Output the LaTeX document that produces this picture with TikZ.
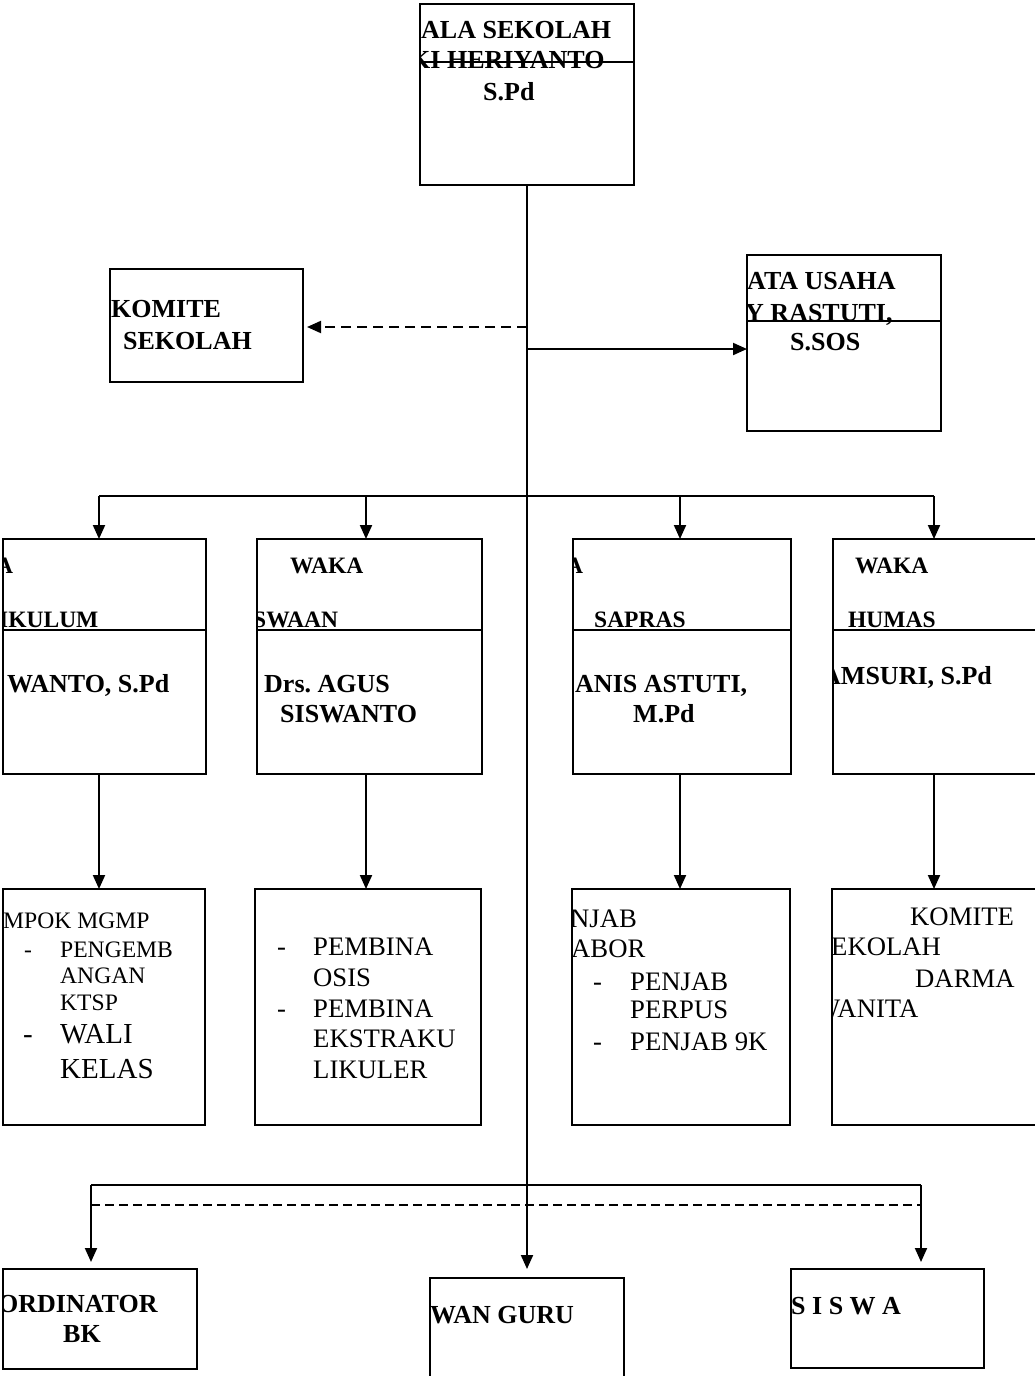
\documentclass[tikz,border=0pt]{standalone}
\usepackage{fontspec}
\setmainfont{Liberation Serif}
\usetikzlibrary{arrows.meta}
\usetikzlibrary{positioning}
\frenchspacing

\tikzset{
  unitbox/.style={rectangle, draw=black, line width=1.7pt, anchor=north west, inner sep=0pt, outer sep=0pt},
  divline/.style={line width=1.2pt},
  nm/.style={anchor=base west, inner sep=0pt, font=\bfseries\fontsize{26}{30}\selectfont},
  hd/.style={anchor=base west, inner sep=0pt, font=\bfseries\fontsize{23.5}{28}\selectfont},
  tsk/.style={anchor=base west, inner sep=0pt, font=\fontsize{26.7}{30}\selectfont},
  tsksm/.style={anchor=base west, inner sep=0pt, font=\fontsize{23.6}{28}\selectfont},
  tskbig/.style={anchor=base west, inner sep=0pt, font=\fontsize{29}{33}\selectfont},
  link/.style={line width=2pt, -{Triangle[length=14pt,width=12pt]}},
  plain/.style={line width=2pt},
  dashlink/.style={link, dash pattern=on 10pt off 6pt},
}

\begin{document}
\begin{tikzpicture}[x=1pt, y=-1pt]
\useasboundingbox (0,0) rectangle (1034,1376);

% boxes
\node [unitbox, minimum width=214pt, minimum height=181pt] (kepala) at (420,4) {};
\node [unitbox, minimum width=193pt, minimum height=113pt] (komite) at (110,269) {};
\node [unitbox, minimum width=194pt, minimum height=176pt] (tu) at (747,255) {};
\node [unitbox, minimum width=203pt, minimum height=235pt] (w1) at (3,539) {};
\node [unitbox, minimum width=225pt, minimum height=235pt] (w2) at (257,539) {};
\node [unitbox, minimum width=218pt, minimum height=235pt] (w3) at (573,539) {};
\node [unitbox, minimum width=212pt, minimum height=235pt] (w4) at (833,539) {};
\node [unitbox, minimum width=202pt, minimum height=236pt] (p1) at (3,889) {};
\node [unitbox, minimum width=226pt, minimum height=236pt] (p2) at (255,889) {};
\node [unitbox, minimum width=218pt, minimum height=236pt] (p3) at (572,889) {};
\node [unitbox, minimum width=213pt, minimum height=236pt] (p4) at (832,889) {};
\node [unitbox, minimum width=194pt, minimum height=100pt] (bk) at (3,1269) {};
\node [unitbox, minimum width=194pt, minimum height=110pt] (guru) at (430,1278) {};
\node [unitbox, minimum width=193pt, minimum height=99pt] (siswa) at (791,1269) {};

% dividers
\draw [divline] (kepala.west |- 0,62) -- (kepala.east |- 0,62);
\draw [divline] (tu.west |- 0,321) -- (tu.east |- 0,321);
\foreach \b in {w1,w2,w3,w4}
  \draw [divline] (\b.west |- 0,630) -- (\b.east |- 0,630);

% texts
\begin{scope}
\clip (kepala.south west) rectangle (kepala.north east);
\node [nm] (kepala1) at (421,38) {ALA SEKOLAH};
\node [nm] (kepala2) at (410,68) {KI HERIYANTO};
\node [nm] (kepala3) at (483,100) {S.Pd};
\end{scope}
\begin{scope}
\clip (komite.south west) rectangle (komite.north east);
\node [nm] (komite1) at (111,317) {KOMITE};
\node [nm] (komite2) at (123,349) {SEKOLAH};
\end{scope}
\begin{scope}
\clip (tu.south west) rectangle (tu.north east);
\node [nm] (tu1) at (747,289) {ATA USAHA};
\node [nm] (tu2) at (745,321) {Y RASTUTI,};
\node [nm] (tu3) at (790,350) {S.SOS};
\end{scope}
\begin{scope}
\clip (w1.south west) rectangle (w1.north east);
\node [hd] (w1a) at (-4,573) {A};
\node [hd] (w1b) at (-1,627) {IKULUM};
\node [nm] (w1c) at (7,692) {WANTO, S.Pd};
\end{scope}
\begin{scope}
\clip (w2.south west) rectangle (w2.north east);
\node [hd] (w2a) at (290,573) {WAKA};
\node [hd] (w2b) at (253,627) {SWAAN};
\node [nm] (w2c) at (264,692) {Drs. AGUS};
\node [nm] (w2d) at (280,722) {SISWANTO};
\end{scope}
\begin{scope}
\clip (w3.south west) rectangle (w3.north east);
\node [hd] (w3a) at (566,573) {A};
\node [hd] (w3b) at (594,627) {SAPRAS};
\node [nm] (w3c) at (575,692) {ANIS ASTUTI,};
\node [nm] (w3d) at (633,722) {M.Pd};
\end{scope}
\begin{scope}
\clip (w4.south west) rectangle (w4.north east);
\node [hd] (w4a) at (855,573) {WAKA};
\node [hd] (w4b) at (848,627) {HUMAS};
\node [nm] (w4c) at (822,684) {AMSURI, S.Pd};
\end{scope}
\begin{scope}
\clip (p1.south west) rectangle (p1.north east);
\node [tsksm] (p1a) at (3,928) {MPOK MGMP};
\node [tsksm] (p1b) at (24,957) {-};
\node [tsksm] (p1c) at (60,957) {PENGEMB};
\node [tsksm] (p1d) at (60,983) {ANGAN};
\node [tsksm] (p1e) at (60,1010) {KTSP};
\node [tskbig] (p1f) at (23,1043) {-};
\node [tskbig] (p1g) at (60,1043) {WALI};
\node [tskbig] (p1h) at (60,1078) {KELAS};
\end{scope}
\begin{scope}
\clip (p2.south west) rectangle (p2.north east);
\node [tsk] (p2a) at (277,955) {-};
\node [tsk] (p2b) at (313,955) {PEMBINA};
\node [tsk] (p2c) at (313,986) {OSIS};
\node [tsk] (p2d) at (277,1017) {-};
\node [tsk] (p2e) at (313,1017) {PEMBINA};
\node [tsk] (p2f) at (313,1047) {EKSTRAKU};
\node [tsk] (p2g) at (313,1078) {LIKULER};
\end{scope}
\begin{scope}
\clip (p3.south west) rectangle (p3.north east);
\node [tsk] (p3a) at (570,927) {NJAB};
\node [tsk] (p3b) at (571,957) {ABOR};
\node [tsk] (p3c) at (593,990) {-};
\node [tsk] (p3d) at (630,990) {PENJAB};
\node [tsk] (p3e) at (630,1018) {PERPUS};
\node [tsk] (p3f) at (593,1050) {-};
\node [tsk] (p3g) at (630,1050) {PENJAB 9K};
\end{scope}
\begin{scope}
\clip (p4.south west) rectangle (p4.north east);
\node [tsk] (p4a) at (910,925) {KOMITE};
\node [tsk] (p4b) at (831,955) {EKOLAH};
\node [tsk] (p4c) at (915,987) {DARMA};
\node [tsk] (p4d) at (815,1017) {WANITA};
\end{scope}
\begin{scope}
\clip (bk.south west) rectangle (bk.north east);
\node [nm] (bk1) at (-2,1312) {ORDINATOR};
\node [nm] (bk2) at (63,1342) {BK};
\end{scope}
\begin{scope}
\clip (guru.south west) rectangle (guru.north east);
\node [nm] (guru1) at (430,1323) {WAN GURU};
\end{scope}
\begin{scope}
\clip (siswa.south west) rectangle (siswa.north east);
\node [nm] (siswa1) at (791,1314) {S I S W A};
\end{scope}

% connectors
\coordinate (kj) at (527,327);
\coordinate (tj) at (527,349);
\coordinate (b1) at (99,496);
\coordinate (b2) at (366,496);
\coordinate (b3) at (680,496);
\coordinate (b4) at (934,496);
\coordinate (c1) at (91,1185);
\coordinate (c2) at (921,1185);
\coordinate (d1) at (91,1205);
\coordinate (d2) at (921,1205);

\draw [link, shorten >=9pt] (kepala.south) -- (guru.north);
\draw [dashlink, shorten >=4pt] (kj) -- (komite.east |- kj);
\draw [link] (tj) -- (tu.west |- tj);
\draw [plain] (b1) -- (b4);
\draw [link] (b1) -- (b1 |- w1.north);
\draw [link] (b2) -- (b2 |- w2.north);
\draw [link] (b3) -- (b3 |- w3.north);
\draw [link] (b4) -- (b4 |- w4.north);
\draw [link] (b1 |- w1.south) -- (b1 |- p1.north);
\draw [link] (b2 |- w2.south) -- (b2 |- p2.north);
\draw [link] (b3 |- w3.south) -- (b3 |- p3.north);
\draw [link] (b4 |- w4.south) -- (b4 |- p4.north);
\draw [plain] (c1) -- (c2);
\draw [plain, dash pattern=on 9pt off 5pt] (d1) -- (d2);
\draw [link, shorten >=7pt] (c1) -- (c1 |- bk.north);
\draw [link, shorten >=7pt] (c2) -- (c2 |- siswa.north);
\end{tikzpicture}
\end{document}
